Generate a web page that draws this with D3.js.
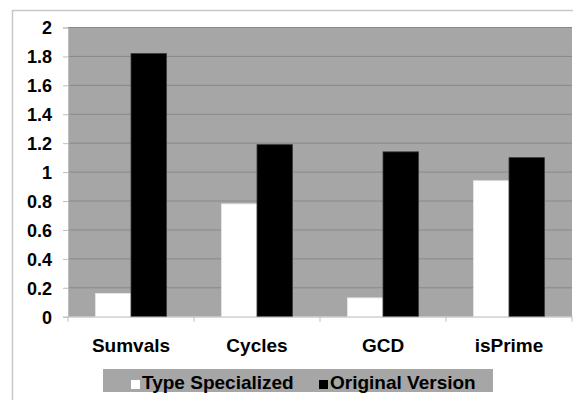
<!DOCTYPE html>
<html><head><meta charset="utf-8">
<script src="https://cdn.jsdelivr.net/npm/d3@7"></script>
<style>body{margin:0;background:#fff}svg{display:block}text{font-family:"Liberation Sans",Arial,sans-serif;font-weight:bold;fill:#000}</style>
</head><body>
<script>
const categories = ["Sumvals", "Cycles", "GCD", "isPrime"];
const seriesNames = ["Type Specialized", "Original Version"];
const typeSpecialized = [0.16, 0.78, 0.13, 0.94];
const originalVersion = [1.82, 1.19, 1.14, 1.10];
const yTicks = [0, 0.2, 0.4, 0.6, 0.8, 1, 1.2, 1.4, 1.6, 1.8, 2];
const yTickLabels = ["0", "0.2", "0.4", "0.6", "0.8", "1", "1.2", "1.4", "1.6", "1.8", "2"];
const seriesColors = ["#ffffff", "#000000"];

const W = 573, H = 400;
const svg = d3.select("body").append("svg").attr("width", W).attr("height", H);

// outer frame
svg.append("rect").attr("x", 12.5).attr("y", 10.5).attr("width", 600).attr("height", 420)
  .attr("fill", "#fff").attr("stroke", "#c8c8c8").attr("stroke-width", 1.5);

const plot = {left: 68, right: 572, top: 27.5, bottom: 316.7};
const x = d3.scaleBand().domain(categories).range([plot.left, plot.right]).padding(0);
const y = d3.scaleLinear().domain([0, 2]).range([plot.bottom, plot.top]);

svg.append("rect").attr("x", plot.left).attr("y", plot.top)
  .attr("width", plot.right - plot.left).attr("height", plot.bottom - plot.top).attr("fill", "#a6a6a6");

// gridlines
svg.append("g").selectAll("line").data(yTicks.filter(d => d > 0)).join("line")
  .attr("x1", plot.left).attr("x2", plot.right)
  .attr("y1", d => y(d)).attr("y2", d => y(d))
  .attr("stroke", "#898989").attr("stroke-width", 1);

// bars
const x1 = d3.scaleBand().domain(seriesNames).range([0, x.bandwidth()]).paddingOuter(0.775).paddingInner(0);
const data = categories.map((c, i) => ({c, vals: [typeSpecialized[i], originalVersion[i]]}));
const g = svg.append("g").selectAll("g").data(data).join("g")
  .attr("transform", d => `translate(${x(d.c)},0)`);
g.selectAll("rect").data(d => d.vals.map((v, j) => ({v, s: seriesNames[j], j}))).join("rect")
  .attr("x", d => x1(d.s)).attr("width", x1.bandwidth())
  .attr("y", d => y(d.v)).attr("height", d => y(0) - y(d.v))
  .attr("fill", d => seriesColors[d.j])
  .attr("stroke", d => d.j === 1 ? "#3a3a3a" : "#e8e8e8").attr("stroke-width", 0.8);

// y axis
const yAxis = d3.axisLeft(y).tickValues(yTicks).tickFormat((d, i) => yTickLabels[i]).tickSize(5).tickPadding(11);
const ya = svg.append("g").attr("transform", `translate(${plot.left},0)`).call(yAxis);
ya.select(".domain").attr("stroke", "#bdbdbd");
ya.selectAll(".tick line").attr("stroke", "#bdbdbd");
ya.selectAll(".tick text").style("font-size", "18px").attr("dy", "0.36em");

// x axis
const xAxis = d3.axisBottom(x).tickSize(0).tickPadding(22);
const xa = svg.append("g").attr("transform", `translate(0,${plot.bottom})`).call(xAxis);
xa.select(".domain").attr("stroke", "#c8c8c8");
xa.selectAll(".tick text").style("font-size", "19px");
svg.append("g").selectAll("line").data(d3.range(categories.length + 1)).join("line")
  .attr("x1", i => plot.left + i * x.bandwidth()).attr("x2", i => plot.left + i * x.bandwidth())
  .attr("y1", plot.bottom).attr("y2", plot.bottom + 5).attr("stroke", "#bdbdbd");

// legend
const lg = svg.append("g");
lg.append("rect").attr("x", 103).attr("y", 369).attr("width", 390).attr("height", 23).attr("fill", "#a6a6a6");
const legendItems = [{x: 131, tx: 142}, {x: 319, tx: 330}];
legendItems.forEach((p, i) => {
  lg.append("rect").attr("x", p.x).attr("y", 380).attr("width", 9).attr("height", 9)
    .attr("fill", seriesColors[i]);
  lg.append("text").attr("x", p.tx).attr("y", 388.5).style("font-size", "19px").text(seriesNames[i]);
});
</script>
</body></html>
